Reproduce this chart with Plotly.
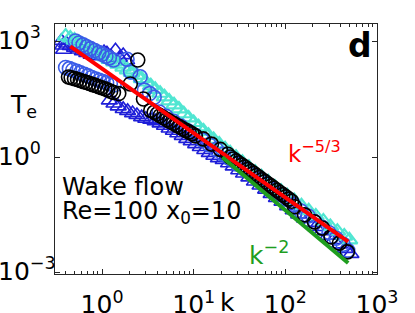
import math
import plotly.graph_objects as go

# ---------------- data ----------------
# black circles
blk_k = [0.43, 0.46, 0.50, 0.54, 0.58, 0.63, 0.68, 0.73, 0.79, 0.85, 0.92, 0.99, 1.07, 1.15, 1.24, 1.33,
         1.52, 2.03, 2.45, 2.83,
         3.4, 3.7, 4.0, 4.3, 4.7, 5.1, 5.5, 6.0, 6.5, 7.0, 7.6, 8.2, 8.9, 9.6, 10.4,
         12.7, 15.6, 19.5, 23.5,
         25, 27, 29, 31, 33.5, 36, 39, 42, 45, 48.5, 52, 56, 60, 65, 70, 75, 81, 87, 94, 101, 109, 117,
         126, 162, 208, 254, 316, 389, 475]
blk_T = [121, 116, 110, 104, 98, 92, 87, 82, 77, 73, 68, 64, 60, 56, 52, 48,
         45, 80, 335, 32.5,
         16.5, 14.7, 13.3, 12.0, 10.6, 9.5, 8.5, 7.6, 6.8, 6.2, 5.5, 5.0, 4.5, 4.1, 3.6,
         3.0, 2.2, 1.6, 1.2,
         1.02, 0.90, 0.80, 0.71, 0.625, 0.555, 0.485, 0.43, 0.382, 0.336, 0.298, 0.262, 0.233, 0.203, 0.178,
         0.158, 0.138, 0.122, 0.107, 0.094, 0.082, 0.072,
         0.052, 0.032, 0.021, 0.0145, 0.0086, 0.0059, 0.0035]

# blue circles
bci_k = [0.51, 0.56, 0.62, 0.68, 0.75, 0.83, 0.92, 1.0, 1.1, 1.2, 1.33,
         0.40, 0.44, 0.48, 0.53, 0.58, 0.64, 0.70, 0.77, 0.85, 0.93, 1.02, 1.12, 1.23, 1.35,
         1.87, 2.05, 2.6, 2.9, 3.3, 3.7,
         4.2, 5.0, 6.0, 7.2, 8.6, 10.3, 12.4, 14.8, 17.7, 21, 25, 30, 36, 43, 51, 61, 73, 87,
         104, 124, 148, 177, 211, 252, 300, 358, 427, 480]
bci_T = [1040, 930, 830, 740, 660, 590, 520, 470, 420, 380, 335,
         215, 200, 185, 170, 155, 142, 130, 118, 108, 99, 92, 86, 80, 75,
         350, 165, 123, 55, 45, 36,
         15, 11.5, 8.6, 6.5, 4.9, 3.7, 2.8, 2.1, 1.6, 1.2, 0.9, 0.66, 0.49, 0.36, 0.27, 0.2, 0.148, 0.11,
         0.08, 0.058, 0.04, 0.03, 0.021, 0.0152, 0.011, 0.0079, 0.0055, 0.0038]

# blue triangles
btr_k = [0.36, 0.37, 0.38, 0.41, 0.45, 0.50, 0.55, 0.61, 0.68, 0.76, 0.85, 0.95, 1.05, 1.13, 1.25, 1.4,
         1.55, 1.7, 1.85,
         1.2, 1.35, 1.5, 1.7, 1.9, 2.15, 2.4, 2.7, 3.0, 3.4, 3.8, 4.3, 4.8, 5.4, 6.0, 6.7, 7.5, 8.4, 9.4,
         10.5, 11.8, 13.2, 14.8, 16.6, 18.6, 21, 24, 27, 31, 35, 40, 46, 53, 61, 70, 80, 92, 106, 122,
         140, 162, 187, 215, 250, 290, 335, 390, 450, 520]
btr_T = [1050, 800, 620, 900, 780, 700, 630, 570, 510, 460, 420, 470, 540, 500, 420, 600,
         380, 450, 330,
         30, 25, 21, 18, 16, 14, 12.5, 11, 10, 9.5, 8.7, 7.6, 6.6, 5.6, 4.9, 4.2, 3.6, 3.0, 2.6,
         2.2, 1.85, 1.55, 1.3, 1.1, 0.95, 0.85, 0.7, 0.58, 0.46, 0.38, 0.3, 0.235, 0.185, 0.145, 0.112,
         0.088, 0.07, 0.054, 0.042, 0.033, 0.026, 0.02, 0.0155, 0.012, 0.0092, 0.0071, 0.0055, 0.0042, 0.0031]

# cyan triangles
cyn_k = [0.40, 0.45, 0.50, 0.56, 0.62, 0.70, 0.78, 0.87, 0.97, 1.08, 1.2, 1.35, 1.5, 1.7, 1.9, 2.1,
         2.4, 2.7, 3.0, 3.4, 3.8, 4.3, 4.8, 5.4, 6.1, 6.9, 7.8, 8.8, 10, 11.3, 12.8, 14.5, 16.5, 19,
         22, 25, 29, 34, 40, 47, 55, 65, 77, 90, 105, 125, 150, 180, 215, 260, 310, 370, 440, 500]
cyn_T = [1400, 1250, 1100, 950, 820, 720, 630, 540, 470, 410, 350, 300, 260, 220, 185, 160,
         135, 110, 90, 72, 58, 46, 37, 29, 23, 18, 13.5, 10.5, 8.0, 6.2, 4.8, 3.7, 2.9, 2.2,
         1.65, 1.3, 1.0, 0.74, 0.55, 0.41, 0.31, 0.23, 0.17, 0.13, 0.10, 0.075, 0.055, 0.041, 0.030,
         0.022, 0.016, 0.012, 0.0090, 0.0072]

# reference slopes (end points)
red_k = [0.45, 485]
red_T = [760, 0.0065]
grn_k = [20.5, 485]
grn_T = [1.0, 0.0018]

xtick_vals = [1, 10, 100, 1000]
xtick_text = ["10<sup>0</sup>", "10<sup>1</sup>", "10<sup>2</sup>", "10<sup>3</sup>"]
ytick_vals = [1e-3, 1, 1e3]
ytick_text = ["10<sup>\u22123</sup>", "10<sup>0</sup>", "10<sup>3</sup>"]

# ---------------- figure ----------------
FONT = "DejaVu Sans, Liberation Sans, Arial, sans-serif"
FS = 25
C_BLK = "#000000"
C_BCI = "#3A5CE8"
C_BTR = "#1E1ED8"
C_CYN = "#50E6D2"
C_RED = "#FF0000"
C_GRN = "#1F9E1F"

fig = go.Figure()
MS = 14
fig.add_trace(go.Scatter(x=btr_k, y=btr_T, mode="markers",
                         marker=dict(symbol="triangle-up-open", size=MS, color=C_BTR,
                                     line=dict(width=1.6, color=C_BTR))))
fig.add_trace(go.Scatter(x=cyn_k, y=cyn_T, mode="markers",
                         marker=dict(symbol="triangle-up-open", size=MS, color=C_CYN,
                                     line=dict(width=2.2, color=C_CYN))))
fig.add_trace(go.Scatter(x=bci_k, y=bci_T, mode="markers",
                         marker=dict(symbol="circle-open", size=MS, color=C_BCI,
                                     line=dict(width=1.6, color=C_BCI))))
fig.add_trace(go.Scatter(x=blk_k, y=blk_T, mode="markers",
                         marker=dict(symbol="circle-open", size=MS, color=C_BLK,
                                     line=dict(width=1.6, color=C_BLK))))
fig.add_trace(go.Scatter(x=red_k, y=red_T, mode="lines", line=dict(color=C_RED, width=4)))
fig.add_trace(go.Scatter(x=grn_k, y=grn_T, mode="lines", line=dict(color=C_GRN, width=4)))

ax_common = dict(type="log", showgrid=False, zeroline=False, showline=True, automargin=False,
                 linecolor="#262626", linewidth=1, mirror="ticks", ticks="inside",
                 tickcolor="#262626", tickwidth=1, ticklen=5)

minor_vals = [m * d for d in (0.1, 1, 10, 100) for m in range(2, 10)]
fig.update_xaxes(**ax_common, range=[-0.514, 3.0005], tickmode="array",
                 tickvals=xtick_vals, ticktext=xtick_text,
                 tickfont=dict(family=FONT, size=FS, color="#000000"),
                 ticklabelstandoff=8,
                 minor=dict(ticks="inside", ticklen=3, tickcolor="#262626", tickwidth=1,
                            tickmode="array", tickvals=minor_vals, showgrid=False))
fig.update_yaxes(**ax_common, range=[-3.03, 3.46], tickmode="array",
                 tickvals=ytick_vals, showticklabels=False)

ann = []
for v, t in zip(ytick_vals, ytick_text):
    ann.append(dict(x=-0.182, xref="paper", y=math.log10(v), yref="y", text=t,
                    xanchor="left", yanchor="middle", showarrow=False, yshift=3,
                    font=dict(family=FONT, size=FS, color="#000000")))
ann += [
    dict(x=-0.145, xref="paper", y=0.672, yref="paper", text="T<sub>e</sub>",
         xanchor="left", yanchor="middle", showarrow=False,
         font=dict(family=FONT, size=FS, color="#000000")),
    dict(x=0.537, xref="paper", y=-0.112, yref="paper", text="k",
         xanchor="center", yanchor="middle", showarrow=False,
         font=dict(family=FONT, size=FS, color="#000000")),
    dict(x=0.99, xref="paper", y=1.0, yref="paper", text="<b>d</b>",
         xanchor="right", yanchor="top", showarrow=False,
         font=dict(family=FONT, size=33, color="#000000")),
    dict(x=0.014, xref="paper", y=0.348, yref="paper", text="Wake flow",
         xanchor="left", yanchor="middle", showarrow=False,
         font=dict(family=FONT, size=24, color="#000000")),
    dict(x=0.014, xref="paper", y=0.248, yref="paper", text="Re=100 x<sub>0</sub>=10",
         xanchor="left", yanchor="middle", showarrow=False,
         font=dict(family=FONT, size=24, color="#000000")),
    dict(x=0.718, xref="paper", y=0.49, yref="paper", text="k<sup>\u22125/3</sup>",
         xanchor="left", yanchor="middle", showarrow=False,
         font=dict(family=FONT, size=23, color=C_RED)),
    dict(x=0.595, xref="paper", y=0.082, yref="paper", text="k<sup>\u22122</sup>",
         xanchor="left", yanchor="middle", showarrow=False,
         font=dict(family=FONT, size=FS, color=C_GRN)),
]

fig.update_layout(width=415, height=313, showlegend=False,
                  margin=dict(l=55, r=38, t=24, b=39),
                  plot_bgcolor="#FFFFFF", paper_bgcolor="#FFFFFF",
                  font=dict(family=FONT, size=FS, color="#000000"),
                  annotations=ann)

fig.write_html("out.html", config={"displayModeBar": False},
               post_script="document.body.style.margin='0';document.body.style.padding='0';")
